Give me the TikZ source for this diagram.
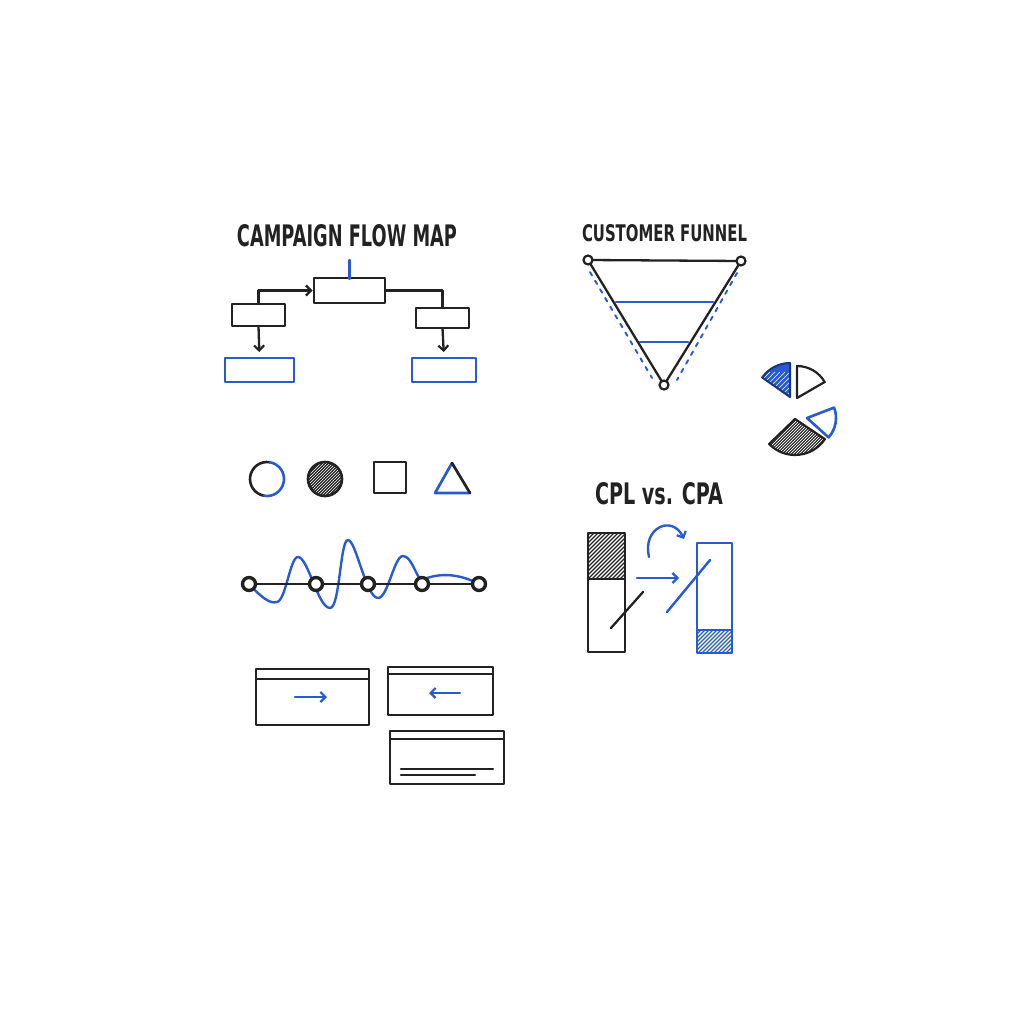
\documentclass[tikz,border=0pt]{standalone}
\usepackage{fontspec}
\usepackage{graphicx}
\setmainfont{DejaVu Sans}
\usetikzlibrary{arrows.meta,calc}
\definecolor{ink}{RGB}{34,34,34}
\definecolor{pen}{RGB}{40,90,210}
\begin{document}
\begin{tikzpicture}[x=1pt,y=-1pt,line join=round,line cap=round,
  slot/.style={rectangle,inner sep=0pt,outer sep=0pt},
  kline/.style={draw=ink,line width=2.6pt},
  bline/.style={draw=pen,line width=2.7pt},
  conn/.style={draw=ink,line width=2.3pt},
  arr/.style={-{Straight Barb[length=5pt,width=10pt,line width=2.2pt]}},
  fdot/.style={circle,inner sep=0pt,outer sep=0pt,minimum size=10pt},
  wdot/.style={circle,inner sep=0pt,outer sep=0pt,minimum size=14pt},
  ttl/.style={inner sep=0pt,text=ink,font=\bfseries},
  hatchw/.style={white,line width=0.8pt},
  hatchk/.style={ink,line width=1.1pt},
  hatchb/.style={pen,line width=1.1pt}]
\fill[white] (0,0) rectangle (1024,1024);
\useasboundingbox (0,0) rectangle (1024,1024);

% ---------- Campaign flow map ----------
\node[ttl] (t1) at (347,236) {\resizebox{220pt}{22pt}{CAMPAIGN FLOW MAP}};
\node[slot,minimum width=71pt,minimum height=25pt] (top) at (349.5,290.5) {};
\node[slot,minimum width=53pt,minimum height=22pt] (lft) at (258.5,315) {};
\node[slot,minimum width=53pt,minimum height=20pt] (rgt) at (442.5,318) {};
\node[slot,minimum width=69pt,minimum height=24pt] (lblue) at (259.5,370) {};
\node[slot,minimum width=64pt,minimum height=24pt] (rblue) at (444,370) {};
\foreach \b in {top,lft,rgt} \draw[kline] (\b.north west) rectangle (\b.south east);
\foreach \b in {lblue,rblue} \draw[bline] (\b.north west) rectangle (\b.south east);
\coordinate (tick) at (349.5,260);
\draw[pen,line width=2.3pt] (tick) -- ([yshift=-1pt]top.north);
\draw[conn,arr] (lft.north) |- ([xshift=-1.5pt]top.west);
\draw[conn] (top.east) -| (rgt.north);
\draw[conn,arr,shorten >=6pt] (lft.south) -- (lblue.north);
\draw[conn,arr,shorten >=6pt] (rgt.south) -- (rblue.north);

% ---------- Customer funnel ----------
\node[ttl] (t2) at (664.5,233.5) {\resizebox{165pt}{17pt}{CUSTOMER FUNNEL}};
\coordinate (dl1) at (590,272); \coordinate (dl2) at (652,378);
\coordinate (dr1) at (737,273); \coordinate (dr2) at (677,380);
\draw[pen,line width=1.9pt,dash pattern=on 4pt off 6pt] (dl1) -- (dl2);
\draw[pen,line width=1.9pt,dash pattern=on 4pt off 6pt] (dr1) -- (dr2);
\coordinate (b1l) at (616,302); \coordinate (b1r) at (713,302);
\coordinate (b2l) at (640,342); \coordinate (b2r) at (688,342);
\draw[pen,line width=2.7pt] (b1l) -- (b1r);
\draw[pen,line width=2.7pt] (b2l) -- (b2r);
\node[fdot] (ftl) at (588,260) {};
\node[fdot] (ftr) at (741,261) {};
\node[fdot] (fbt) at (664,385) {};
\draw[conn] (ftl) -- (ftr);
\draw[conn] (ftl) -- (fbt);
\draw[conn] (ftr) -- (fbt);
\foreach \d in {ftl,ftr,fbt} \draw[ink,fill=white,line width=2.2pt] (\d.center) circle[radius=4.5];

% ---------- Pie pieces ----------
\coordinate (p1) at (790,397);
\fill[pen] (p1) -- ($(p1)+(-90:34)$) arc[start angle=-90,end angle=-145,radius=34] -- cycle;
\begin{scope}
\clip (p1) -- ($(p1)+(-90:34)$) arc[start angle=-90,end angle=-145,radius=34] -- cycle;
\foreach \i in {-70,-65,...,40} \draw[hatchw,line width=0.6pt] ($(p1)+(\i,20)$) -- ++(45,-45);
\end{scope}
\draw[pen!60!black,line width=2pt] (p1) -- ($(p1)+(-90:34)$) arc[start angle=-90,end angle=-145,radius=34] -- cycle;
\coordinate (p2) at (797,398);
\draw[ink,line width=2.2pt] (p2) -- ($(p2)+(-90:32)$) arc[start angle=-90,end angle=-30,radius=32] -- cycle;
\coordinate (p3) at (807,418);
\draw[pen,line width=2.6pt] (p3) -- ($(p3)+(42:29)$) arc[start angle=42,end angle=-21,radius=29] -- cycle;
\coordinate (p4) at (795,419);
\fill[ink] (p4) -- ($(p4)+(136:36)$) arc[start angle=136,end angle=34,radius=36] -- cycle;
\begin{scope}
\clip (p4) -- ($(p4)+(136:36)$) arc[start angle=136,end angle=34,radius=36] -- cycle;
\foreach \i in {-70,-67,...,40} \draw[hatchw,line width=0.7pt] ($(p4)+(\i,40)$) -- ++(40,-40);
\end{scope}
\draw[ink,line width=2.2pt] (p4) -- ($(p4)+(136:36)$) arc[start angle=136,end angle=34,radius=36] -- cycle;

% ---------- Shapes row ----------
\node[circle,minimum size=34pt,inner sep=0pt] (sc1) at (267,479) {};
\draw[ink,line width=2.6pt] ($(sc1.center)+(100:17)$) arc[start angle=100,end angle=280,radius=17];
\draw[pen,line width=2.6pt] ($(sc1.center)+(280:17)$) arc[start angle=280,end angle=460,radius=17];
\node[circle,minimum size=34pt,inner sep=0pt] (sc2) at (325,479) {};
\fill[ink] (sc2.center) circle[radius=17];
\begin{scope}
\clip (sc2.center) circle[radius=17];
\foreach \i in {-40,-37,...,20} \draw[hatchw,line width=0.6pt] ($(sc2.center)+(\i,20)$) -- ++(40,-40);
\end{scope}
\draw[ink,line width=2.6pt] (sc2.center) circle[radius=17];
\node[slot,minimum width=32pt,minimum height=31pt] (sq) at (390,477.5) {};
\draw[kline] (sq.north west) rectangle (sq.south east);
\coordinate (ta) at (452,463); \coordinate (tl) at (435,493); \coordinate (tr) at (470,493);
\draw[pen,line width=2.7pt] (ta) -- (tl) -- (tr);
\draw[ink,line width=2.7pt] (tr) -- (ta);

% ---------- Wave ----------
\coordinate (w1) at (249,584);
\coordinate (w2) at (316,584);
\coordinate (w3) at (368,584);
\coordinate (w4) at (422,584);
\coordinate (w5) at (479,584);
\draw[pen,line width=2.4pt] (w1) .. controls (262,598) and (270,604) .. (277,602)
  .. controls (286,600) and (290,557) .. (298,557)
  .. controls (308,557) and (318,608) .. (330,608)
  .. controls (340,608) and (340,540) .. (348,540)
  .. controls (356,540) and (366,598) .. (378,598)
  .. controls (388,598) and (394,556) .. (403,556)
  .. controls (412,556) and (416,578) .. (422,580)
  .. controls (440,572) and (460,574) .. (w5);
\draw[ink,line width=2.3pt] (w1) -- (w2) -- (w3) -- (w4) -- (w5);
\foreach \n in {1,...,5} {
  \node[wdot] (wn\n) at (w\n) {};
  \draw[ink,fill=white,line width=3.4pt] (wn\n.center) circle[radius=6.5];
}

% ---------- CPL vs CPA ----------
\node[ttl] (t3) at (659,494) {\resizebox{128pt}{22pt}{CPL vs. CPA}};
\node[slot,minimum width=37pt,minimum height=119pt] (cpl) at (606.5,592.5) {};
\begin{scope}
\clip (588,533) rectangle (625,579);
\foreach \i in {-50,-46,...,40} \draw[hatchk] (588+\i,585) -- ++(60,-60);
\end{scope}
\draw[kline] (588,579) -- (625,579);
\draw[kline] (cpl.north west) rectangle (cpl.south east);
\node[slot,minimum width=35pt,minimum height=110pt] (cpa) at (714.5,598) {};
\begin{scope}
\clip (697,630) rectangle (732,653);
\foreach \i in {-30,-26,...,40} \draw[hatchb] (697+\i,660) -- ++(40,-40);
\end{scope}
\draw[bline] (697,630) -- (732,630);
\draw[bline] (cpa.north west) rectangle (cpa.south east);
\coordinate (k1) at (611,628); \coordinate (k2) at (643,592);
\draw[ink,line width=2.3pt] (k1) -- (k2);
\coordinate (a1) at (637,578); \coordinate (a2) at (679,578);
\draw[pen,line width=2.4pt,arr] (a1) -- (a2);
\coordinate (c1) at (649,557); \coordinate (c2) at (684,539);
\draw[pen,line width=2.4pt,arr] (c1) .. controls (642,528) and (672,514) .. (c2);
\coordinate (d1) at (667,612); \coordinate (d2) at (710,560);
\draw[pen,line width=2.4pt] (d1) -- (d2);

% ---------- Windows ----------
\node[slot,minimum width=113pt,minimum height=56pt] (win1) at (312.5,697) {};
\node[slot,minimum width=105pt,minimum height=48pt] (win2) at (440.5,691) {};
\node[slot,minimum width=114pt,minimum height=53pt] (win3) at (447,757.5) {};
\foreach \b in {win1,win2,win3} \draw[kline] (\b.north west) rectangle (\b.south east);
\draw[ink,line width=2.4pt,line cap=butt] ($(win1.north west)+(0,10)$) -- ($(win1.north east)+(0,10)$);
\draw[ink,line width=2.4pt,line cap=butt] ($(win2.north west)+(0,7)$) -- ($(win2.north east)+(0,7)$);
\draw[ink,line width=2.4pt,line cap=butt] ($(win3.north west)+(0,8)$) -- ($(win3.north east)+(0,8)$);
\coordinate (e1) at (295,697); \coordinate (e2) at (327,697);
\draw[pen,line width=2.4pt,arr] (e1) -- (e2);
\coordinate (f1) at (460,693); \coordinate (f2) at (429,693);
\draw[pen,line width=2.4pt,arr] (f1) -- (f2);
\coordinate (g1) at (401,769); \coordinate (g2) at (493,769);
\coordinate (h1) at (401,775); \coordinate (h2) at (475,775);
\draw[ink,line width=2.2pt] (g1) -- (g2);
\draw[ink,line width=2.2pt] (h1) -- (h2);
\end{tikzpicture}
\end{document}
